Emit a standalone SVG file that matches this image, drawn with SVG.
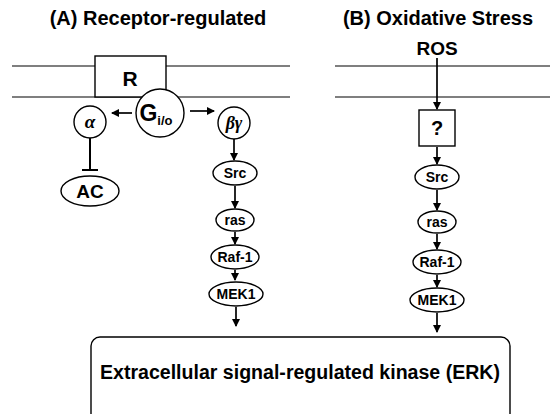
<svg xmlns="http://www.w3.org/2000/svg" width="550" height="414" viewBox="0 0 550 414">
<defs>
<style>
.ln{stroke:#000;stroke-width:1.2;fill:none}
.inh{stroke:#000;stroke-width:2;fill:none}
.nd{stroke:#000;stroke-width:1.4;fill:#fff}
.t{font-family:"Liberation Sans",Arial,sans-serif;font-weight:bold;fill:#000;text-anchor:middle}
.g{font-family:"Liberation Serif","Times New Roman",serif;font-style:italic;font-weight:bold;fill:#000;text-anchor:middle}
.ar{stroke:#000;stroke-width:1.7;fill:none;marker-end:url(#ah)}
</style>
<marker id="ah" markerWidth="8" markerHeight="8" refX="7" refY="4" orient="auto" markerUnits="userSpaceOnUse">
<path d="M0,0 L8,4 L0,8 Z" fill="#000"/>
</marker>
</defs>
<rect width="550" height="414" fill="#fff"/>
<text class="t" x="158" y="25" font-size="20">(A) Receptor-regulated</text>
<text class="t" x="438" y="25" font-size="20">(B) Oxidative Stress</text>
<g id="membrane">
<path class="ln" d="M12,66 H95 M166,66 H290 M12,97 H290 M335,66 H550 M335,97 H550"/>
</g>
<g id="connectors">
<path class="ar" d="M132,113 H112"/>
<path class="ar" d="M190,111 H214"/>
<path class="inh" d="M90,138 V170 M82,170 H98"/>
<path class="ar" d="M234,139 V160"/>
<path class="ar" d="M235,186 V208"/>
<path class="ar" d="M235,232 V244"/>
<path class="ar" d="M235,270 V280"/>
<path class="ar" d="M236,307 V326"/>
<path class="ar" d="M437,58 V109"/>
<path class="ar" d="M437,147 V164"/>
<path class="ar" d="M437,190 V210"/>
<path class="ar" d="M437,234 V249"/>
<path class="ar" d="M437,275 V287"/>
<path class="ar" d="M437,313 V332"/>
</g>
<g id="R"><rect class="nd" x="95" y="56" width="71" height="41"/><text class="t" x="130" y="86" font-size="21">R</text></g>
<g id="G"><circle class="nd" cx="160" cy="113" r="24"/><text class="t" x="156" y="121" font-size="23">G<tspan font-size="13" dy="4">i/o</tspan></text></g>
<g id="alpha"><circle class="nd" cx="90" cy="122" r="16"/><text class="g" x="90" y="128" font-size="19">α</text></g>
<g id="betagamma"><circle class="nd" cx="234" cy="123" r="16"/><text class="g" x="234" y="129" font-size="18">βγ</text></g>
<g id="AC"><ellipse class="nd" cx="90" cy="191" rx="29" ry="15"/><text class="t" x="90" y="198" font-size="19">AC</text></g>
<g id="SrcA"><ellipse class="nd" cx="235" cy="173" rx="22" ry="12"/><text class="t" x="235" y="178" font-size="14">Src</text></g>
<g id="rasA"><ellipse class="nd" cx="235" cy="220" rx="19" ry="11"/><text class="t" x="235" y="225" font-size="14">ras</text></g>
<g id="RafA"><ellipse class="nd" cx="235" cy="257" rx="24" ry="12"/><text class="t" x="235" y="262" font-size="14">Raf-1</text></g>
<g id="MEKA"><ellipse class="nd" cx="236" cy="294" rx="27" ry="12"/><text class="t" x="236" y="299" font-size="14">MEK1</text></g>
<g id="ROS"><text class="t" x="437" y="55" font-size="19">ROS</text></g>
<g id="Q"><rect class="nd" x="419" y="110" width="36" height="36"/><text class="t" x="437" y="135" font-size="20">?</text></g>
<g id="SrcB"><ellipse class="nd" cx="437" cy="177" rx="22" ry="12"/><text class="t" x="437" y="182" font-size="14">Src</text></g>
<g id="rasB"><ellipse class="nd" cx="437" cy="222" rx="19" ry="11"/><text class="t" x="437" y="227" font-size="14">ras</text></g>
<g id="RafB"><ellipse class="nd" cx="437" cy="262" rx="24" ry="12"/><text class="t" x="437" y="267" font-size="14">Raf-1</text></g>
<g id="MEKB"><ellipse class="nd" cx="437" cy="300" rx="27" ry="12"/><text class="t" x="437" y="305" font-size="14">MEK1</text></g>
<g id="ERK"><rect class="nd" x="91" y="337" width="419" height="90" rx="9"/><text class="t" x="300" y="379" font-size="20" textLength="400" lengthAdjust="spacingAndGlyphs">Extracellular signal-regulated kinase (ERK)</text></g>
</svg>
